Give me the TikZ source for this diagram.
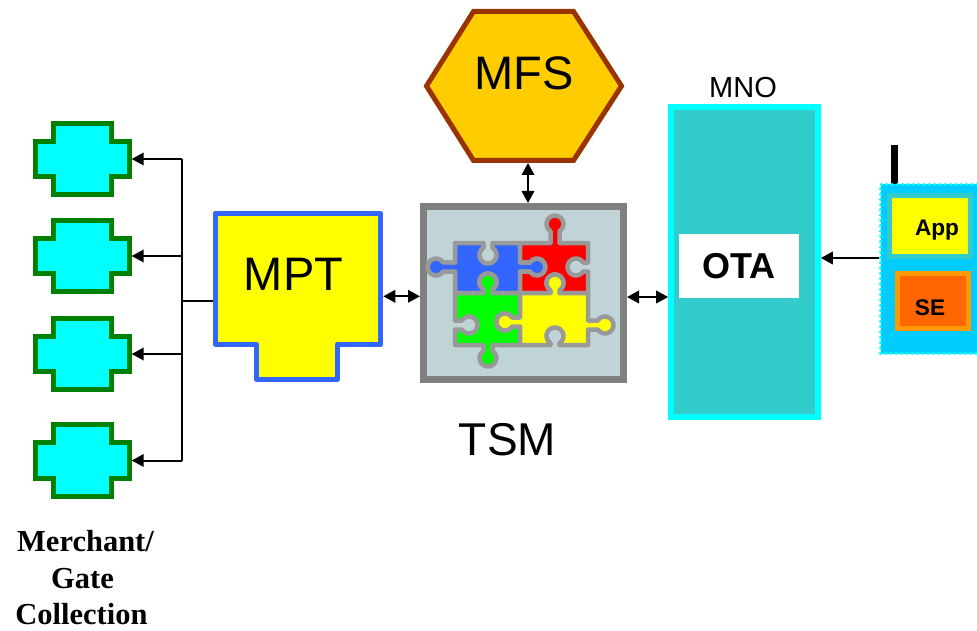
\documentclass[tikz,border=0pt]{standalone}
\usepackage{fontspec}
\setmainfont{Liberation Serif}
\newfontfamily\arialf{Liberation Sans}
\usetikzlibrary{arrows.meta}
\definecolor{mgreen}{HTML}{008000}
\definecolor{mcyan}{HTML}{00FFFF}
\definecolor{mptblue}{HTML}{3366FF}
\definecolor{mptyel}{HTML}{FFFF00}
\definecolor{tsmgray}{HTML}{808080}
\definecolor{tsmbg}{HTML}{C0D4D8}
\definecolor{pgray}{HTML}{999999}
\definecolor{pblue}{HTML}{3366FF}
\definecolor{pred}{HTML}{FF0000}
\definecolor{pgreen}{HTML}{00FF00}
\definecolor{pyellow}{HTML}{FFFF00}
\definecolor{mfsyel}{HTML}{FFCC00}
\definecolor{mfsbrown}{HTML}{993300}
\definecolor{mnofill}{HTML}{33CCCC}
\definecolor{phoneblue}{HTML}{00CCFF}
\definecolor{seor}{HTML}{FF6600}
\definecolor{seborder}{HTML}{FF9900}
% puzzle knob / hole segments (image coordinates, y downwards); #1,#2 = edge point, #3 = head centre distance
\newcommand\kHRu[3]{-- (#1-4.5,#2) -- (#1-4.5,#2-#3+7.21) arc[start angle=121.97,end angle=418.03,radius=8.5] -- (#1+4.5,#2)}
\newcommand\kHRd[3]{-- (#1-4.5,#2) -- (#1-4.5,#2+#3-7.21) arc[start angle=238.03,end angle=-58.03,radius=8.5] -- (#1+4.5,#2)}
\newcommand\kHLd[3]{-- (#1+4.5,#2) -- (#1+4.5,#2+#3-7.21) arc[start angle=-58.03,end angle=238.03,radius=8.5] -- (#1-4.5,#2)}
\newcommand\kHLu[3]{-- (#1+4.5,#2) -- (#1+4.5,#2-#3+7.21) arc[start angle=58.03,end angle=-238.03,radius=8.5] -- (#1-4.5,#2)}
\newcommand\kVDr[3]{-- (#1,#2-4.5) -- (#1+#3-7.21,#2-4.5) arc[start angle=-148.03,end angle=148.03,radius=8.5] -- (#1,#2+4.5)}
\newcommand\kVDl[3]{-- (#1,#2-4.5) -- (#1-#3+7.21,#2-4.5) arc[start angle=-31.97,end angle=-328.03,radius=8.5] -- (#1,#2+4.5)}
\newcommand\kVUl[3]{-- (#1,#2+4.5) -- (#1-#3+7.21,#2+4.5) arc[start angle=31.97,end angle=328.03,radius=8.5] -- (#1,#2-4.5)}
\newcommand\kVUr[3]{-- (#1,#2+4.5) -- (#1+#3-7.21,#2+4.5) arc[start angle=148.03,end angle=-148.03,radius=8.5] -- (#1,#2-4.5)}
\tikzset{
  merchant/.pic={
    \draw[draw=mgreen, fill=mcyan, line width=5pt]
      (-29,-35.8) -- (29,-35.8) -- (29,-17.8) -- (46.7,-17.8) -- (46.7,17.8)
      -- (29,17.8) -- (29,35.8) -- (-29,35.8) -- (-29,17.8) -- (-46.7,17.8)
      -- (-46.7,-17.8) -- (-29,-17.8) -- cycle;
    \coordinate (-e) at (49.2,0);
  },
  tip/.tip={Triangle[length=12pt,width=12.5pt]},
  arr/.style={line width=2pt, -tip},
  dbl/.style={line width=2pt, tip-tip},
  busline/.style={line width=2pt},
  pz/.style={draw=pgray, line width=4.5pt, line join=round},
  biglbl/.style={font=\arialf\fontsize{47}{50}\selectfont, inner sep=0pt, anchor=base},
  boldlbl/.style={font=\arialf\bfseries\fontsize{22.6}{24}\selectfont, inner sep=0pt, anchor=base},
  merchlbl/.style={font=\bfseries\fontsize{30.5}{37}\selectfont, inner sep=0pt, anchor=base},
}
\begin{document}
\begin{tikzpicture}[x=1pt,y=-1pt]
\useasboundingbox (0,0) rectangle (977,631);

% merchants
\pic (m1) at (82.5,159) {merchant};
\pic (m2) at (82.5,256) {merchant};
\pic (m3) at (82.5,354) {merchant};
\pic (m4) at (82.5,460.5) {merchant};

% MPT
\node[inner sep=0pt, outer sep=0pt, minimum width=170.6pt, minimum height=170.7pt] (mpt) at (298,296.3) {};
\draw[draw=mptblue, fill=mptyel, line width=5pt, line join=round]
  (215.2,213.5) -- (380.8,213.5) -- (380.8,344.2) -- (337.5,344.2) -- (337.5,379.2)
  -- (256.5,379.2) -- (256.5,344.2) -- (215.2,344.2) -- cycle;
\node[biglbl] (mptl) at (293.5,290) {MPT};

% bus to merchants
\coordinate (bus) at (182,301);
\draw[busline] (bus |- m1-e) -- (bus |- m4-e);
\draw[busline] (bus) -- ([yshift=-4.7pt]mpt.west);
\draw[arr] (bus |- m1-e) -- (m1-e);
\draw[arr] (bus |- m2-e) -- (m2-e);
\draw[arr] (bus |- m3-e) -- (m3-e);
\draw[arr] (bus |- m4-e) -- (m4-e);

% TSM
\node[draw=tsmgray, fill=tsmbg, line width=7pt, minimum width=200pt, minimum height=173pt, inner sep=0pt] (tsm) at (523.5,293) {};
\filldraw[pz, fill=pblue] (455,243) \kHRd{488}{243}{12} -- (520,243) \kVDr{520}{267}{17} -- (520,293) \kHLu{488}{293}{11} -- (455,293) \kVUl{455}{267}{19} -- cycle;
\filldraw[pz, fill=pred] (520,243) \kHRu{555}{243}{19} -- (588,243) \kVDl{588}{267}{12} -- (588,293) \kHLu{555}{293}{10} -- (520,293) \kVUr{520}{267}{17} -- cycle;
\filldraw[pz, fill=pgreen] (455,293) \kHRu{488}{293}{11} -- (520,293) \kVDl{520}{322}{15} -- (520,345) \kHLd{488}{345}{13} -- (455,345) \kVUr{455}{325}{14} -- cycle;
\filldraw[pz, fill=pyellow] (520,293) \kHRu{555}{293}{10} -- (588,293) \kVDr{588}{325}{17} -- (588,345) \kHLu{555}{345}{9} -- (520,345) \kVUl{520}{322}{15} -- cycle;
\node[biglbl, font=\arialf\fontsize{46}{50}\selectfont] (tsml) at (507.5,455) {TSM};

% MPT <-> TSM
\draw[dbl] (mpt.east) -- (mpt.east -| tsm.west);

% MFS
\draw[draw=mfsbrown, fill=mfsyel, line width=5pt]
  (426.5,86) -- (473.5,11.5) -- (573.5,11.5) -- (621.5,86) -- (573.5,160.5) -- (473.5,160.5) -- cycle;
\coordinate (mfsb) at (528,163);
\node[biglbl] (mfs) at (524,90) {MFS};
\draw[dbl] (mfsb) -- (mfsb |- tsm.north);

% MNO
\node[draw=mcyan, fill=mnofill, line width=5.7pt, minimum width=147pt, minimum height=310pt, inner sep=0pt] (mno) at (744.5,262) {};
\node[font=\arialf\fontsize{29}{30}\selectfont, inner sep=0pt, anchor=base] (mnol) at (743,98) {MNO};
\node[fill=white, minimum width=120pt, minimum height=64pt, inner sep=0pt, font=\arialf\bfseries\fontsize{36}{38}\selectfont] (ota) at (739,266) {OTA};
\coordinate (t1) at ([yshift=-4pt]tsm.east);
\draw[dbl] (t1) -- (t1 -| mno.west);

% phone
\fill (891,145) rectangle (898,184);
\node[fill=phoneblue, draw=mcyan, line width=3.5pt, dash pattern=on 0pt off 5.3pt, line cap=round, minimum width=109.5pt, minimum height=169pt, inner sep=0pt] (phone) at (935.25,269) {};
\node[fill=pyellow, draw=mnofill, line width=5.5pt, minimum width=81pt, minimum height=61pt, inner sep=0pt] (appb) at (930,226) {};
\node[boldlbl] (app) at (937,236) {App};
\node[fill=seor, draw=seborder, line width=5pt, minimum width=71pt, minimum height=55pt, inner sep=0pt] (seb) at (933,301) {};
\node[boldlbl] (se) at (930,315) {SE};
\coordinate (p1) at ([yshift=11pt]phone.west);
\draw[arr] (p1) -- (p1 -| mno.east);

% caption
\node[merchlbl] (c1) at (85.5,551) {Merchant/};
\node[merchlbl] (c2) at (82.5,588) {Gate};
\node[merchlbl] (c3) at (81.5,624) {Collection};
\end{tikzpicture}
\end{document}
